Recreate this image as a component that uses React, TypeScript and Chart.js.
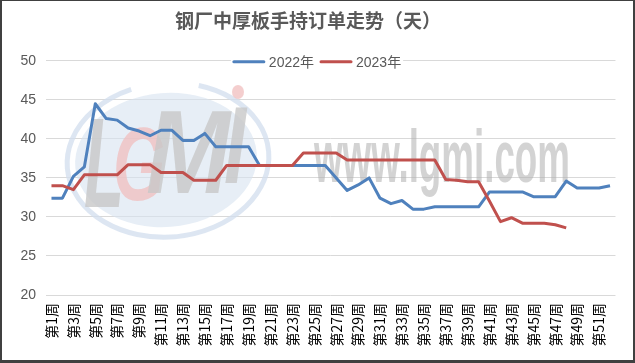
import React, { useEffect, useRef } from 'react';
import { Chart, registerables } from 'chart.js';

Chart.register(...registerables);

const WEEKS = [
  '第1周', '第2周', '第3周', '第4周', '第5周', '第6周', '第7周', '第8周', '第9周', '第10周',
  '第11周', '第12周', '第13周', '第14周', '第15周', '第16周', '第17周', '第18周', '第19周', '第20周',
  '第21周', '第22周', '第23周', '第24周', '第25周', '第26周', '第27周', '第28周', '第29周', '第30周',
  '第31周', '第32周', '第33周', '第34周', '第35周', '第36周', '第37周', '第38周', '第39周', '第40周',
  '第41周', '第42周', '第43周', '第44周', '第45周', '第46周', '第47周', '第48周', '第49周', '第50周',
  '第51周', '第52周',
];

const SERIES_2022 = [
  32.4, 32.4, 35.2, 36.4, 44.5, 42.6, 42.4, 41.4, 41.0, 40.4,
  41.1, 41.1, 39.8, 39.8, 40.7, 39.0, 39.0, 39.0, 39.0, 36.6,
  36.6, 36.6, 36.6, 36.6, 36.6, 36.6, 35.0, 33.4, 34.1, 35.0,
  32.4, 31.7, 32.1, 31.0, 31.0, 31.3, 31.3, 31.3, 31.3, 31.3,
  33.2, 33.2, 33.2, 33.2, 32.6, 32.6, 32.6, 34.6, 33.7, 33.7,
  33.7, 34.0,
];

const SERIES_2023 = [
  34.0, 34.0, 33.5, 35.4, 35.4, 35.4, 35.4, 36.7, 36.7, 36.7,
  35.7, 35.7, 35.7, 34.7, 34.7, 34.7, 36.6, 36.6, 36.6, 36.6,
  36.6, 36.6, 36.6, 38.2, 38.2, 38.2, 38.2, 37.3, 37.3, 37.3,
  37.3, 37.3, 37.3, 37.3, 37.3, 37.3, 34.8, 34.7, 34.5, 34.5,
  32.0, 29.4, 29.9, 29.2, 29.2, 29.2, 29.0, 28.6,
];

const SERIES_LABELS = ['2022年', '2023年'];
const TITLE = '钢厂中厚板手持订单走势（天）';
const Y_MIN = 20;
const Y_MAX = 50;
const Y_STEP = 5;

const BLUE = '#4F81BD';
const RED = '#C0504D';
const TEXT = '#595959';
const GRID = '#d9d9d9';
const FONT = '"Liberation Sans", "Noto Sans CJK SC", sans-serif';

const watermark = {
  id: 'watermark',
  beforeDatasetsDraw(chart: any) {
    const ctx: CanvasRenderingContext2D = chart.ctx;
    ctx.save();
    // logo ellipse
    ctx.fillStyle = 'rgba(215,226,240,0.6)';
    ctx.beginPath();
    ctx.ellipse(166, 160, 91, 67, -0.08, 0, Math.PI * 2);
    ctx.fill();
    ctx.strokeStyle = 'rgba(210,222,238,0.75)';
    ctx.lineWidth = 5;
    ctx.beginPath();
    ctx.ellipse(168, 160, 101, 77, -0.08, -1.2, 4.4);
    ctx.stroke();
    // letters
    ctx.textBaseline = 'alphabetic';
    ctx.fillStyle = 'rgba(200,200,200,0.8)';
    ctx.font = 'italic bold 128px "Liberation Sans", sans-serif';
    ctx.fillText('L', 84, 207, 40);
    ctx.fillStyle = 'rgba(240,190,190,0.75)';
    ctx.font = 'italic bold 104px "Liberation Sans", sans-serif';
    ctx.fillText('G', 113, 200, 52);
    ctx.fillStyle = 'rgba(200,200,200,0.8)';
    ctx.font = 'italic bold 118px "Liberation Sans", sans-serif';
    ctx.fillText('M', 146, 193, 84);
    ctx.font = 'italic bold 110px "Liberation Sans", sans-serif';
    ctx.fillText('I', 224, 183, 22);
    ctx.fillStyle = 'rgba(240,190,190,0.75)';
    ctx.beginPath();
    ctx.ellipse(238, 92, 6, 7, 0, 0, Math.PI * 2);
    ctx.fill();
    // site text
    ctx.fillStyle = 'rgba(175,175,175,0.55)';
    ctx.font = 'bold 75px "Liberation Sans", sans-serif';
    ctx.fillText('www.lgmi.com', 314, 182, 256);
    ctx.restore();
  },
};

const legendPlugin = {
  id: 'customLegend',
  afterDraw(chart: any) {
    const ctx: CanvasRenderingContext2D = chart.ctx;
    ctx.save();
    ctx.font = `14px ${FONT}`;
    const lineLen = 32;
    const gapLine = 4;
    const gapItem = 6;
    const items = chart.data.datasets.map((d: any) => ({
      text: d.label as string,
      color: d.borderColor as string,
      w: ctx.measureText(d.label).width,
    }));
    let total = 0;
    items.forEach((it: any, i: number) => {
      total += lineLen + gapLine + it.w + (i < items.length - 1 ? gapItem : 0);
    });
    const cx = 317;
    const cy = chart.scales.y.getPixelForValue(Y_MAX) + 1;
    let x = cx - total / 2;
    ctx.fillStyle = '#ffffff';
    ctx.fillRect(x - 2, cy - 9, total + 4, 18);
    ctx.textBaseline = 'middle';
    ctx.textAlign = 'left';
    items.forEach((it: any) => {
      ctx.strokeStyle = it.color;
      ctx.lineWidth = 3;
      ctx.lineCap = 'round';
      ctx.beginPath();
      ctx.moveTo(x + 1, cy);
      ctx.lineTo(x + lineLen - 1, cy);
      ctx.stroke();
      x += lineLen + gapLine;
      ctx.fillStyle = TEXT;
      ctx.fillText(it.text, x, cy + 1);
      x += it.w + gapItem;
    });
    ctx.restore();
  },
};

export default function App() {
  const ref = useRef<HTMLCanvasElement>(null);
  useEffect(() => {
    if (!ref.current) return;
    const chart = new Chart(ref.current, {
      type: 'line',
      data: {
        labels: WEEKS,
        datasets: [
          {
            label: SERIES_LABELS[0],
            data: SERIES_2022,
            borderColor: BLUE,
            backgroundColor: BLUE,
            borderWidth: 3,
            pointRadius: 0,
            tension: 0,
            borderJoinStyle: 'round',
            order: 1,
          },
          {
            label: SERIES_LABELS[1],
            data: SERIES_2023,
            borderColor: RED,
            backgroundColor: RED,
            borderWidth: 3,
            pointRadius: 0,
            tension: 0,
            borderJoinStyle: 'round',
            order: 0,
          },
        ],
      },
      options: {
        animation: false,
        responsive: false,
        events: [],
        layout: { padding: { left: 0, right: 19, top: 0, bottom: 0 } },
        plugins: {
          legend: { display: false },
          tooltip: { enabled: false },
          title: {
            display: true,
            text: TITLE,
            color: TEXT,
            font: { size: 19, weight: 'bold', family: '"Noto Sans CJK SC", sans-serif', lineHeight: 1.2 },
            padding: { top: 9, bottom: 29 },
          },
        },
        scales: {
          x: {
            offset: true,
            grid: { display: false, drawTicks: false },
            border: { display: false },
            ticks: {
              autoSkip: false,
              minRotation: 90,
              maxRotation: 90,
              padding: 8,
              color: '#000000',
              font: { size: 14, family: '"Noto Sans CJK SC", sans-serif' },
              callback: (_v: any, i: number) => (i % 2 === 0 ? WEEKS[i] : ''),
            },
            afterFit: (s: any) => {
              s.height = 68;
            },
          },
          y: {
            min: Y_MIN,
            max: Y_MAX,
            ticks: {
              stepSize: Y_STEP,
              padding: 10,
              color: TEXT,
              font: { size: 14, family: FONT },
            },
            grid: { color: GRID, lineWidth: 1, drawTicks: false },
            border: { display: false },
            afterFit: (s: any) => {
              s.width = 46;
            },
          },
        },
      },
      plugins: [watermark, legendPlugin],
    } as any);
    return () => chart.destroy();
  }, []);
  return (
    <div style={{ position: 'absolute', left: 0, top: 0, width: 635, height: 363, background: '#fff' }}>
      <canvas ref={ref} width={635} height={363} style={{ display: 'block' }} />
      <div
        style={{
          position: 'absolute',
          inset: 0,
          borderStyle: 'solid',
          borderColor: '#404040',
          borderWidth: '1px 2px 3px 2px',
          boxSizing: 'border-box',
          pointerEvents: 'none',
        }}
      />
    </div>
  );
}
